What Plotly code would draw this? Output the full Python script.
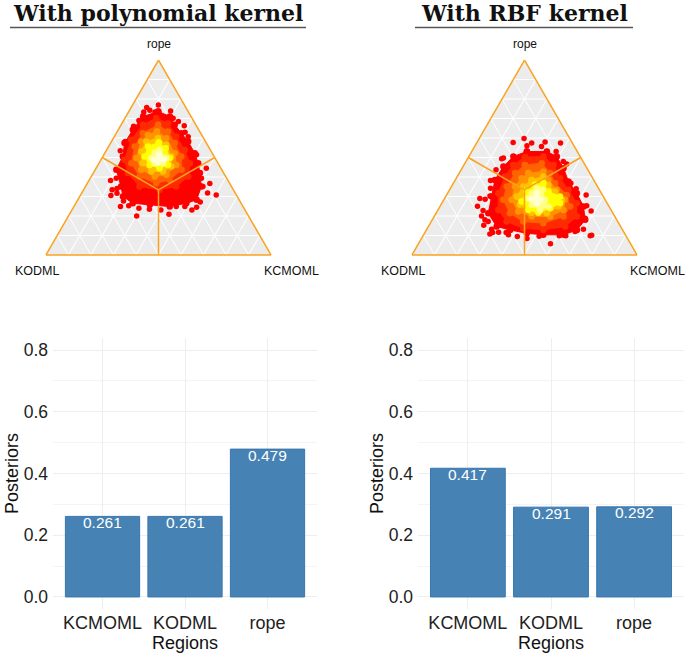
import plotly.graph_objects as go

W, H = 685, 655
regions = ["KCMOML", "KODML", "rope"]
poly_posteriors = [0.261, 0.261, 0.479]
rbf_posteriors = [0.417, 0.291, 0.292]
band_colors = ["#ff0000", "#ff2a00", "#ff6200", "#ff9300", "#ffc400", "#ffff00", "#ffff80", "#ffffd0"]

# Each sample / band outline is (rope, KCMOML); KODML is the remainder.
poly_samples = [(.769,.115),(.757,.069),(.733,.068),(.743,.090),(.733,.118),(.738,.185),(.702,.214),(.690,.068),
 (.661,.059),(.685,.246),(.663,.283),(.639,.258),(.630,.303),(.606,.329),(.582,.061),(.534,.063),(.505,.090),
 (.514,.412),(.445,.490),(.366,.545),(.307,.603),(.318,.559),(.271,.550),(.394,.494),(.382,.096),(.394,.115),
 (.334,.127),(.341,.145),(.305,.136),(.317,.157),(.277,.206),(.248,.207),(.253,.241),(.240,.293),(.200,.303),
 (.235,.342),(.231,.395),(.209,.442),(.248,.455),(.248,.493),(.231,.533),(.245,.547),(.283,.495),(.274,.465),(.351,.522)]
poly_bands = [
 [(.736,.131),(.711,.195),(.668,.238),(.625,.289),(.582,.341),(.522,.400),(.471,.441),(.420,.474),(.351,.515),(.283,.528),
  (.265,.491),(.248,.426),(.257,.333),(.265,.253),(.300,.192),(.351,.158),(.437,.094),(.505,.089),(.574,.062),(.642,.065),(.711,.076)],
 [(.702,.139),(.676,.204),(.608,.275),(.539,.347),(.471,.404),(.402,.431),(.351,.403),(.334,.338),(.351,.240),(.420,.154),(.488,.105),(.591,.083),(.668,.097)],
 [(.668,.164),(.634,.225),(.574,.285),(.505,.349),(.437,.384),(.385,.357),(.368,.306),(.402,.215),(.471,.144),(.557,.116),(.625,.118)],
 [(.634,.176),(.599,.235),(.522,.311),(.462,.348),(.411,.330),(.402,.282),(.437,.205),(.497,.153),(.582,.132),(.616,.145)],
 [(.599,.198),(.565,.252),(.505,.304),(.454,.330),(.428,.306),(.428,.254),(.471,.193),(.531,.158),(.582,.155)],
 [(.577,.213),(.548,.258),(.497,.302),(.462,.311),(.445,.282),(.462,.230),(.505,.185),(.557,.175)],
 [(.539,.235),(.497,.287),(.471,.285),(.471,.248),(.497,.220),(.526,.220)],
 [(.514,.245),(.491,.278),(.474,.261),(.488,.234)],
]
rbf_samples = [(.598,.199),(.577,.161),(.574,.245),(.560,.231),(.579,.302),(.557,.297),(.574,.373),(.531,.334),(.531,.375),
 (.497,.158),(.493,.152),(.479,.433),(.467,.454),(.437,.155),(.382,.158),(.342,.178),(.289,.157),(.286,.182),(.303,.195),
 (.250,.166),(.228,.202),(.200,.209),(.180,.234),(.171,.253),(.152,.243),(.132,.288),(.108,.292),(.115,.301),(.116,.327),
 (.115,.361),(.103,.377),(.094,.421),(.084,.469),(.096,.517),(.057,.587),(.099,.605),(.099,.634),(.120,.665),(.098,.743),
 (.101,.748),(.132,.696),(.188,.676),(.226,.683),(.253,.650),(.308,.620),(.339,.560),(.368,.522)]
rbf_bands = [
 [(.531,.245),(.531,.334),(.505,.391),(.445,.451),(.377,.507),(.317,.574),(.248,.638),(.180,.680),(.128,.669),(.103,.622),
  (.103,.532),(.111,.455),(.128,.372),(.146,.303),(.214,.232),(.300,.204),(.385,.176),(.454,.179),(.505,.198)],
 [(.502,.251),(.505,.332),(.462,.398),(.394,.461),(.334,.528),(.265,.600),(.197,.634),(.146,.608),(.128,.520),(.137,.426),
  (.171,.335),(.231,.268),(.317,.225),(.402,.212),(.462,.219)],
 [(.462,.271),(.471,.341),(.420,.404),(.368,.452),(.308,.534),(.248,.579),(.197,.575),(.163,.502),(.171,.409),(.214,.328),
  (.283,.264),(.351,.245),(.420,.248)],
 [(.420,.307),(.428,.370),(.385,.414),(.334,.476),(.283,.539),(.231,.558),(.197,.516),(.197,.433),(.223,.361),(.283,.301),(.351,.282),(.394,.290)],
 [(.385,.339),(.402,.383),(.360,.426),(.325,.473),(.283,.524),(.248,.527),(.214,.492),(.217,.423),(.257,.351),(.300,.315),(.351,.319)],
 [(.360,.367),(.368,.400),(.325,.444),(.300,.508),(.265,.526),(.240,.494),(.217,.453),(.231,.401),(.274,.350),(.325,.347)],
 [(.342,.383),(.334,.414),(.283,.450),(.248,.482),(.231,.453),(.257,.404),(.291,.371),(.317,.374)],
 [(.317,.396),(.283,.428),(.265,.424),(.286,.389)],
]
region_centre = (1/3, 1/3)
region_edges = [(0.5, 0.0), (0.5, 0.5), (0.0, 0.5)]

def fx(p): return p / W
def fy(p): return 1 - p / H

fig = go.Figure()
ORANGE = "#f9a31f"

def ternary_panel(name, samples, bands):
    fig.add_trace(go.Scatterternary(subplot=name, mode="markers",
        a=[s[0] for s in samples], c=[s[1] for s in samples], b=[1-s[0]-s[1] for s in samples],
        marker=dict(color=band_colors[0], size=5.5, line=dict(width=0)), showlegend=False))
    for col, band in zip(band_colors, bands):
        ring = band + band[:1]
        fig.add_trace(go.Scatterternary(subplot=name, mode="lines+markers", fill="toself", fillcolor=col,
            a=[s[0] for s in ring], c=[s[1] for s in ring], b=[1-s[0]-s[1] for s in ring],
            line=dict(color=col, width=1), marker=dict(color=col, size=6.5, line=dict(width=0)), showlegend=False))
    for e in region_edges:
        fig.add_trace(go.Scatterternary(subplot=name, mode="lines",
            a=[region_centre[0], e[0]], c=[region_centre[1], e[1]],
            b=[1-region_centre[0]-region_centre[1], 1-e[0]-e[1]],
            line=dict(color=ORANGE, width=1.5), showlegend=False))

ternary_panel("ternary", poly_samples, poly_bands)
ternary_panel("ternary2", rbf_samples, rbf_bands)

def tern_axis(label):
    return dict(min=0, dtick=0.1, showgrid=True, gridcolor="#ffffff", gridwidth=1.2, showline=True, linecolor=ORANGE,
                linewidth=1.5, showticklabels=False, ticks="", title=dict(text=" "))
def tern_layout(x0):
    return dict(sum=1, bgcolor="#ececec",
        domain=dict(x=[fx(x0), fx(x0+225)], y=[fy(255), fy(60)]),
        aaxis=tern_axis("rope"), baxis=tern_axis("KODML"), caxis=tern_axis("KCMOML"))

BAR_LINE = dict(color="#3a76b0", width=1)
fig.add_trace(go.Bar(x=regions, y=poly_posteriors, xaxis="x", yaxis="y", width=0.9,
    marker=dict(color="#4682b4", line=BAR_LINE), showlegend=False))
fig.add_trace(go.Bar(x=regions, y=rbf_posteriors, xaxis="x2", yaxis="y2", width=0.9,
    marker=dict(color="#4682b4", line=BAR_LINE), showlegend=False))

def xax(x0, x1, anchor):
    return dict(domain=[fx(x0), fx(x1)], anchor=anchor, range=[-0.6, 2.6], showgrid=True, gridcolor="#eeeeee", gridwidth=1.2,
        ticks="", zeroline=False, showline=False, tickfont=dict(size=18, color="#222222"), ticklabelstandoff=1,
        title=dict(text="Regions", font=dict(size=18, color="#111111"), standoff=0))
def yax(anchor):
    return dict(domain=[fy(609), fy(338)], anchor=anchor, range=[-0.039, 0.839], dtick=0.2, tick0=0, showgrid=True,
        gridcolor="#eeeeee", gridwidth=1.2, zeroline=False, ticks="", showline=False,
        minor=dict(dtick=0.1, tick0=0, showgrid=True, gridcolor="#f4f4f4", gridwidth=0.7),
        tickformat=".1f", tickfont=dict(size=17.5, color="#222222"), ticklabelstandoff=4,
        title=dict(text="Posteriors", font=dict(size=18, color="#111111"), standoff=0))

anns = []
def ann(text, x, y, size, family="Liberation Sans", color="#111111"):
    anns.append(dict(text=text, x=fx(x), y=fy(y), xref="paper", yref="paper", showarrow=False,
                     xanchor="center", yanchor="middle", font=dict(size=size, family=family, color=color)))
for x0 in (46, 412):
    ann("rope", x0+112.5, 44, 12)
    ann("KODML", x0-9, 271, 12.5)
    ann("KCMOML", x0+245, 271, 12.5)
ann("<b>With polynomial kernel</b>", 158, 13, 22, "DejaVu Serif")
ann("<b>With RBF kernel</b>", 524, 13, 22, "DejaVu Serif")
for xa, ya, vals in (("x", "y", poly_posteriors), ("x2", "y2", rbf_posteriors)):
    for cat, v in zip(regions, vals):
        anns.append(dict(text=f"{v:.3f}", x=cat, y=v, xref=xa, yref=ya, showarrow=False, yshift=-6,
                         xanchor="center", yanchor="middle", font=dict(size=15.5, color="#ffffff", family="Liberation Sans")))

shapes = [dict(type="line", xref="paper", yref="paper", x0=fx(a), x1=fx(b), y0=fy(27.5), y1=fy(27.5),
               line=dict(color="#555555", width=1.3)) for a, b in ((10, 306), (415, 633))]

fig.update_layout(width=W, height=H, autosize=False, margin=dict(l=0, r=0, t=0, b=0), paper_bgcolor="#ffffff",
    plot_bgcolor="#ffffff", font=dict(family="Liberation Sans"), showlegend=False, bargap=0.1,
    ternary=tern_layout(46), ternary2=tern_layout(412),
    xaxis=xax(53, 317, "y"), yaxis=yax("x"), xaxis2=xax(418, 684, "y2"), yaxis2=yax("x2"),
    annotations=anns, shapes=shapes)
fig.write_html("out.html", post_script="document.body.style.margin='0';", config=dict(displayModeBar=False))
